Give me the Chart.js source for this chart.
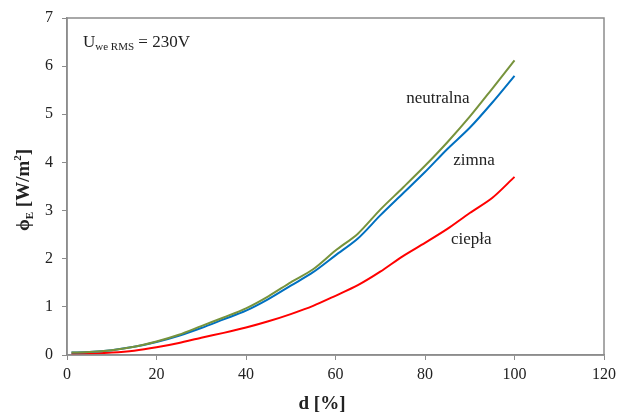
<!DOCTYPE html>
<html>
<head>
<meta charset="utf-8">
<script src="https://cdn.jsdelivr.net/npm/chart.js@4.4.0/dist/chart.umd.min.js"></script>
<style>
  html, body { margin: 0; padding: 0; background: #fff; }
  #wrap { width: 619px; height: 412px; }
</style>
</head>
<body>
<div id="wrap"><canvas id="chart" width="619" height="412"></canvas></div>
<script>
// d [%] values where the curves were measured
const dValues = [1, 5, 10, 15, 20, 25, 30, 35, 40, 45, 50, 55, 60, 65, 70, 75, 80, 85, 90, 95, 100];
// phi_E [W/m2] per light colour
const neutralna = [0.05, 0.06, 0.10, 0.17, 0.28, 0.42, 0.60, 0.78, 0.97, 1.22, 1.51, 1.78, 2.17, 2.52, 3.02, 3.47, 3.93, 4.42, 4.95, 5.53, 6.12];
const zimna     = [0.05, 0.06, 0.10, 0.17, 0.27, 0.40, 0.56, 0.74, 0.92, 1.16, 1.44, 1.72, 2.07, 2.42, 2.90, 3.35, 3.80, 4.28, 4.72, 5.24, 5.80];
const ciepla    = [0.02, 0.03, 0.05, 0.09, 0.16, 0.25, 0.36, 0.46, 0.57, 0.70, 0.85, 1.02, 1.23, 1.45, 1.73, 2.05, 2.33, 2.62, 2.95, 3.26, 3.70];
const xTicks = [0, 20, 40, 60, 80, 100, 120];
const yTicks = [0, 1, 2, 3, 4, 5, 6, 7];

const serif = '"Liberation Serif", "Times New Roman", serif';

function toPoints(ys) {
    return dValues.map((d, i) => ({ x: d, y: ys[i] }));
}

// draws a run of text pieces with their own font and vertical shift
function drawRuns(ctx, x, y, runs) {
    let cx = x;
    runs.forEach(r => {
        ctx.font = r.font;
        ctx.fillText(r.text, cx, y + (r.dy || 0));
        cx += ctx.measureText(r.text).width;
    });
    return cx - x;
}
function runsWidth(ctx, runs) {
    let w = 0;
    runs.forEach(r => { ctx.font = r.font; w += ctx.measureText(r.text).width; });
    return w;
}

const annotations = {
    id: 'annotations',
    afterDraw(chart) {
        const ctx = chart.ctx;
        const a = chart.chartArea;
        const xs = chart.scales.x;
        ctx.save();
        // frame round the plot
        ctx.strokeStyle = '#8c8c8c';
        ctx.lineWidth = 1.5;
        ctx.strokeRect(a.left, a.top, a.right - a.left, a.bottom - a.top);

        ctx.fillStyle = '#222';
        ctx.textBaseline = 'alphabetic';
        ctx.textAlign = 'left';

        // curve labels
        ctx.font = '17px ' + serif;
        ctx.fillText('neutralna', xs.getPixelForValue(75.8), 103);
        ctx.fillText('zimna', xs.getPixelForValue(86.3), 165);
        ctx.fillText('ciepła', xs.getPixelForValue(85.8), 244);

        // supply voltage note
        drawRuns(ctx, 83, 47, [
            { text: 'U', font: '17px ' + serif },
            { text: 'we RMS', font: '11px ' + serif, dy: 3 },
            { text: ' = 230V', font: '17px ' + serif }
        ]);

        // y axis title (rotated)
        const yRuns = [
            { text: 'ϕ', font: 'bold 19px ' + serif },
            { text: 'E', font: 'bold 11px ' + serif, dy: 4 },
            { text: ' [W/m', font: 'bold 19px ' + serif },
            { text: '2', font: 'bold 11px ' + serif, dy: -8 },
            { text: ']', font: 'bold 19px ' + serif }
        ];
        ctx.save();
        ctx.translate(29, 190);
        ctx.rotate(-Math.PI / 2);
        drawRuns(ctx, -runsWidth(ctx, yRuns) / 2, 0, yRuns);
        ctx.restore();

        // x axis title
        ctx.font = 'bold 19px ' + serif;
        ctx.textAlign = 'center';
        ctx.fillText('d [%]', 322, 409);
        ctx.restore();
    }
};

const ctx = document.getElementById('chart').getContext('2d');
new Chart(ctx, {
    type: 'line',
    data: {
        datasets: [
            { label: 'neutralna', data: toPoints(neutralna), borderColor: '#77933C' },
            { label: 'zimna', data: toPoints(zimna), borderColor: '#0070C0' },
            { label: 'ciepła', data: toPoints(ciepla), borderColor: '#FF0000' }
        ].map(ds => Object.assign(ds, { borderWidth: 2, pointRadius: 0, tension: 0.3, fill: false }))
    },
    options: {
        responsive: false,
        animation: false,
        layout: { padding: { left: 0, top: 18, right: 15, bottom: 0 } },
        plugins: { legend: { display: false }, tooltip: { enabled: false } },
        scales: {
            x: {
                type: 'linear',
                min: 0, max: 120,
                afterBuildTicks: s => { s.ticks = xTicks.map(v => ({ value: v })); },
                afterFit: s => { s.height = 57; s.paddingLeft = 0; s.paddingRight = 0; },
                grid: { display: true, drawOnChartArea: false, drawTicks: true, tickLength: 5, color: '#8c8c8c' },
                border: { color: '#8c8c8c', width: 1.5 },
                ticks: { color: '#222', font: { family: serif, size: 16 }, padding: 5, maxRotation: 0 }
            },
            y: {
                min: 0, max: 7,
                afterBuildTicks: s => { s.ticks = yTicks.map(v => ({ value: v })); },
                afterFit: s => { s.width = 67; s.paddingTop = 0; s.paddingBottom = 0; },
                grid: { display: true, drawOnChartArea: false, drawTicks: true, tickLength: 5, color: '#8c8c8c' },
                border: { color: '#8c8c8c', width: 1.5 },
                ticks: { color: '#222', font: { family: serif, size: 16 }, padding: 9 }
            }
        }
    },
    plugins: [annotations]
});
</script>
</body>
</html>
